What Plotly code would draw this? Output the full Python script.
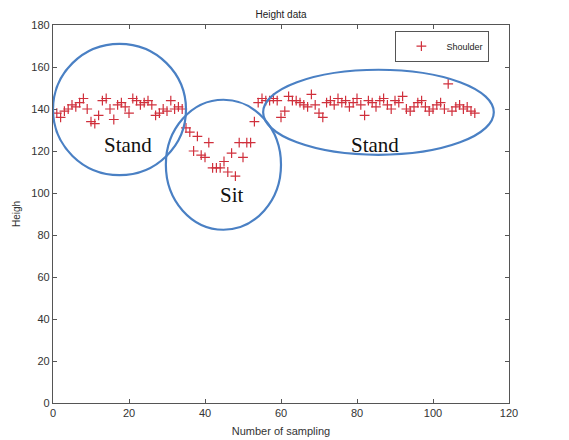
import plotly.graph_objects as go

# Data
sample_idx = list(range(1, 112))
shoulder = [
    138, 136, 139, 140, 142, 141, 143, 145, 140, 134, 133, 137, 144, 145, 140, 135, 142, 143, 141, 138,
    145, 144, 142, 143, 144, 142, 137, 138, 140, 139, 144, 140, 141,
    140, 131, 129, 120, 127, 118, 117, 124, 112, 112, 112, 115, 110, 119, 108, 124, 117, 124, 124, 134,
    143, 145, 144, 144, 145, 144, 136, 139, 146, 144, 144, 143, 142, 141, 147, 142, 138, 136, 143, 144,
    142, 145, 143, 144, 141, 143, 145, 142, 137, 144, 143, 141, 144, 145, 142, 140, 144, 143, 146, 140,
    139, 141, 143, 144, 141, 139, 140, 142, 143, 140, 152, 139, 141, 142, 140, 141, 139, 138,
]
x_ticks = [0, 20, 40, 60, 80, 100, 120]
y_ticks = [0, 20, 40, 60, 80, 100, 120, 140, 160, 180]

# Annotation regions (data coords)
ellipses = [(0, 108.5, 35, 171), (29.7, 82.5, 60, 144.4), (55.3, 118.2, 116, 158.7)]
labels = [("Stand", 19.7, 123), ("Sit", 47, 99), ("Stand", 84.7, 123)]

fig = go.Figure()
fig.add_trace(go.Scatter(
    x=sample_idx, y=shoulder, mode="markers", name="Shoulder",
    marker=dict(symbol="cross-thin", size=7, line=dict(color="#d0303c", width=1.2), color="#d0303c"),
))

for (x0, y0, x1, y1) in ellipses:
    fig.add_shape(type="circle", xref="x", yref="y", x0=x0, y0=y0, x1=x1, y1=y1,
                  line=dict(color="#4a80c4", width=2.2))

for (t, x, y) in labels:
    fig.add_annotation(x=x, y=y, text=t, showarrow=False, xref="x", yref="y",
                       font=dict(family="Liberation Serif, Times New Roman, serif", size=21, color="#111"))

axis_common = dict(showline=True, linecolor="#555", linewidth=1.2, mirror="ticks",
                   ticks="inside", ticklen=4, tickcolor="#555", showgrid=False, zeroline=False,
                   automargin=False, tickfont=dict(size=11, color="#333"))

fig.update_layout(
    width=569, height=440,
    margin=dict(l=45, r=68, t=17, b=45, pad=0),
    paper_bgcolor="white", plot_bgcolor="white",
    font=dict(family="Liberation Sans, Arial, sans-serif", color="#333"),
    title=dict(text="Height data", x=0.5, xanchor="center", y=0.986, yanchor="middle",
               xref="paper", automargin=False, font=dict(size=10, color="#222")),
    xaxis=dict(range=[0, 120], tickvals=x_ticks, title=dict(text="Number of sampling", font=dict(size=11), standoff=9), **axis_common),
    yaxis=dict(range=[0, 180], tickvals=y_ticks, title=dict(text="Heigh", font=dict(size=10), standoff=8), **axis_common),
    showlegend=True,
    legend=dict(x=0.957, y=0.985, xanchor="right", yanchor="top", bgcolor="white",
                bordercolor="#555", borderwidth=1, font=dict(size=9, color="#222"),
                itemwidth=40, tracegroupgap=0),
)

fig.write_html("out.html")
